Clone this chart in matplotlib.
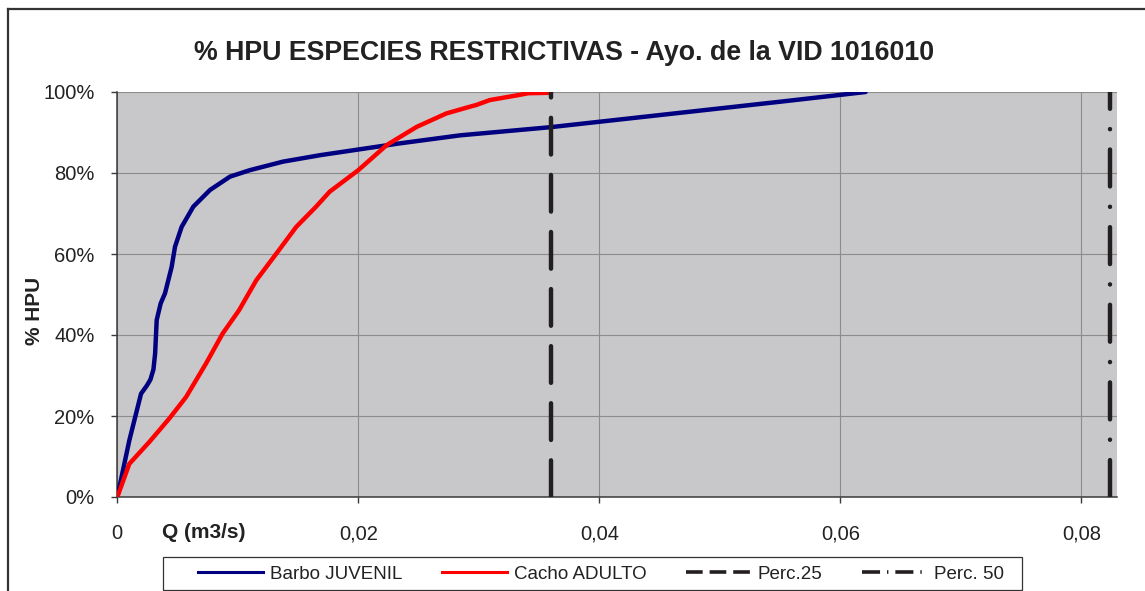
import matplotlib
matplotlib.use("Agg")
import matplotlib.pyplot as plt
from matplotlib.lines import Line2D
from matplotlib.patches import Rectangle

plt.rcParams['font.family'] = ['Liberation Sans', 'DejaVu Sans']
plt.rcParams['lines.scale_dashes'] = False

# ---------------- data ----------------
title = "% HPU ESPECIES RESTRICTIVAS - Ayo. de la VID 1016010"
xlabel = "Q (m3/s)"
ylabel = "% HPU"

barbo_q = [0.0, 0.0010, 0.00197, 0.00245, 0.00275, 0.0030, 0.00314, 0.00327,
           0.0036, 0.00396, 0.00451, 0.00479, 0.00534, 0.00631, 0.00769,
           0.00935, 0.0110, 0.01374, 0.01683, 0.0234, 0.02845, 0.0359, 0.045,
           0.055, 0.0621]
barbo_hpu = [0.0, 0.14, 0.255, 0.275, 0.29, 0.315, 0.355, 0.437,
             0.478, 0.503, 0.568, 0.618, 0.667, 0.717, 0.758,
             0.791, 0.807, 0.828, 0.844, 0.873, 0.893, 0.913, 0.943,
             0.976, 1.0]

cacho_q = [0.0, 0.0010, 0.00266, 0.00432, 0.00571, 0.00737, 0.00875, 0.0101,
           0.01153, 0.0132, 0.01485, 0.0165, 0.01763, 0.0200, 0.02236,
           0.02485, 0.0273, 0.0293, 0.0298, 0.0309, 0.0334, 0.0341, 0.0358]
cacho_hpu = [0.0, 0.082, 0.136, 0.194, 0.247, 0.330, 0.404, 0.461,
             0.535, 0.601, 0.667, 0.717, 0.754, 0.807, 0.869,
             0.914, 0.947, 0.964, 0.968, 0.980, 0.993, 0.997, 0.998]

perc25_q = 0.03595
perc50_q = 0.08234

series_names = ["Barbo JUVENIL", "Cacho ADULTO", "Perc.25", "Perc. 50"]

xticks = [0, 0.02, 0.04, 0.06, 0.08]
xtick_labels = ["0", "0,02", "0,04", "0,06", "0,08"]
yticks = [0, 0.2, 0.4, 0.6, 0.8, 1.0]
ytick_labels = ["0%", "20%", "40%", "60%", "80%", "100%"]

# ---------------- figure ----------------
W, H = 1145, 591
fig = plt.figure(figsize=(W / 100, H / 100), dpi=100)
fig.patch.set_facecolor('white')

def fx(px):
    return px / W

def fy(py):
    return 1 - py / H

ax = fig.add_axes([fx(117.3), fy(497), fx(1117) - fx(117.3), fy(92) - fy(497)])
ax.set_facecolor('#c8c8ca')
ax.set_xlim(0, 0.08296)
ax.set_ylim(0, 1)

ax.set_xticks(xticks)
ax.set_xticklabels(xtick_labels)
ax.set_yticks(yticks)
ax.set_yticklabels(ytick_labels)
ax.grid(True, color='#8c8c8c', linewidth=0.8)
ax.set_axisbelow(True)

for s in ['top', 'right']:
    ax.spines[s].set_visible(False)
for s in ['left', 'bottom']:
    ax.spines[s].set_color('#3a3a3a')
    ax.spines[s].set_linewidth(1.1)

ax.tick_params(axis='both', direction='out', length=4.5, width=1.0,
               color='#3a3a3a', labelsize=14.5, labelcolor='#222222')
ax.tick_params(axis='y', pad=12)
ax.tick_params(axis='x', pad=15)

ax.plot(barbo_q, barbo_hpu, color='#000080', linewidth=3.2,
        solid_capstyle='round', solid_joinstyle='round', zorder=3)
ax.plot(cacho_q, cacho_hpu, color='#ff0000', linewidth=3.2,
        solid_capstyle='round', solid_joinstyle='round', zorder=3)

ax.plot([perc25_q, perc25_q], [0, 1], color='#231f20', linewidth=3.2,
        linestyle=(0, (26.4, 14.7)), dash_capstyle='round', zorder=4)
ax.plot([perc50_q, perc50_q], [0, 1], color='#231f20', linewidth=3.2,
        linestyle=(0, (26.6, 14.6, 0.1, 14.6)), dash_capstyle='round', zorder=4)

# title and axis labels
fig.text(fx(564), fy(60), title, ha='center', va='baseline',
         fontsize=19.3, fontweight='bold', color='#222222')
fig.text(fx(162), fy(538), xlabel, ha='left', va='baseline',
         fontsize=15, fontweight='bold', color='#222222')
fig.text(fx(35), fy(311), ylabel, ha='center', va='center', rotation=90,
         fontsize=15, fontweight='bold', color='#222222')

# legend
handles = [
    Line2D([], [], color='#000080', linewidth=2.2),
    Line2D([], [], color='#ff0000', linewidth=2.2),
    Line2D([], [], color='#231f20', linewidth=2.6, linestyle=(0, (12, 5))),
    Line2D([], [], color='#231f20', linewidth=2.6, linestyle=(0, (13, 5, 1, 5))),
]
fig.add_artist(Rectangle((fx(163), fy(590)), fx(1022) - fx(163), fy(557) - fy(590),
                         transform=fig.transFigure, facecolor='white',
                         edgecolor='#333333', linewidth=0.9, zorder=1))
leg = fig.legend(handles, series_names, loc='center left',
                 bbox_to_anchor=(fx(198), fy(574)), ncol=4, frameon=False,
                 fontsize=13.5, handlelength=3.47, handletextpad=0.37,
                 columnspacing=2.1, borderpad=0, borderaxespad=0)
leg.set_zorder(2)
for t in leg.get_texts():
    t.set_color('#222222')

# outer border (top and left)
fig.add_artist(Line2D([fx(7.5), 1.0], [fy(9), fy(9)], transform=fig.transFigure,
                      color='#333333', linewidth=1.6))
fig.add_artist(Line2D([fx(7.5), fx(7.5)], [fy(9), 0.0], transform=fig.transFigure,
                      color='#333333', linewidth=1.6))

fig.savefig('out.png', dpi=100)
